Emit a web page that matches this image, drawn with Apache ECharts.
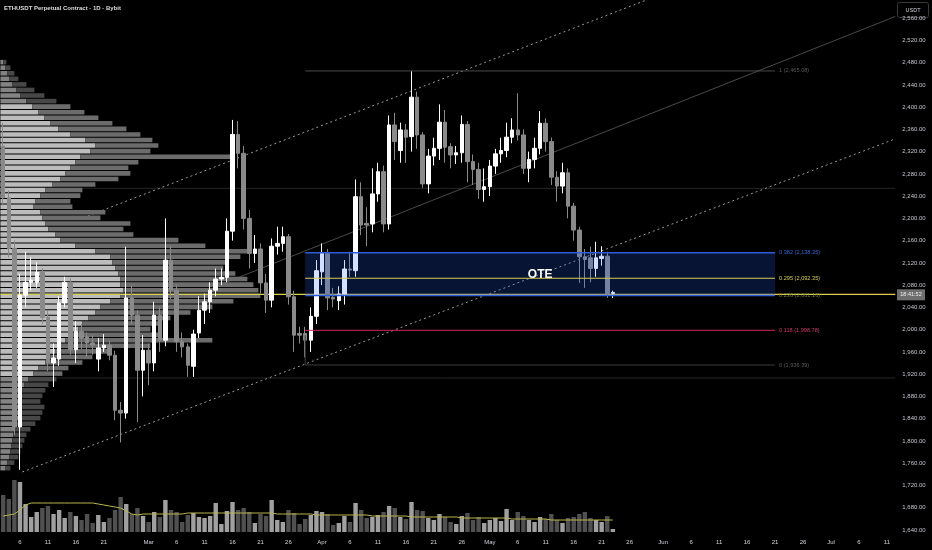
<!DOCTYPE html>
<html><head><meta charset="utf-8">
<script src="https://cdn.jsdelivr.net/npm/echarts@6/dist/echarts.min.js"></script>
<style>html,body{margin:0;padding:0;background:#000;}#c{width:932px;height:550px;}</style>
</head><body><div id="c"></div>
<script>
// ---- daily candles, Feb 3 .. May 23 ----
const opens=[2330,2237,2146,1825,2062,2085,2085,2103,2022,1940,
1947,2048,2085,1964,1997,1987,1976,1947,1967,1972,
1954,1855,1850,2057,2026,1927,1963,1940,2026,1981,
2125,2071,1978,1969,1934,1994,2035,2050,2071,2091,
2094,2177,2351,2317,2200,2137,2145,2084,2053,2150,
2155,2167,2059,1993,1993,1981,2024,2104,2138,2058,
2052,2064,2109,2106,2239,2191,2190,2244,2284,2190,
2368,2322,2359,2347,2418,2350,2262,2312,2326,2373,
2329,2314,2318,2369,2302,2288,2252,2257,2294,2316,
2322,2346,2359,2350,2290,2306,2326,2371,2338,2274,
2258,2282,2222,2179,2131,2129,2110,2128,2132,2065];
const closes=[2237,2146,1825,2062,2085,2089,2103,2022,1941,1949,
2048,2085,1964,1997,1985,1976,1972,1967,1972,1954,
1855,1850,2057,2026,1927,1963,1940,2026,1981,2125,
2071,1978,1969,1936,1992,2035,2050,2071,2091,2094,
2177,2351,2317,2200,2137,2145,2084,2053,2150,2155,
2167,2059,1990,1990,1981,2024,2106,2138,2057,2055,
2064,2109,2107,2239,2188,2188,2244,2284,2190,2368,
2338,2359,2346,2418,2350,2262,2312,2326,2373,2328,
2314,2318,2369,2302,2288,2252,2257,2294,2316,2322,
2346,2359,2350,2290,2306,2326,2371,2338,2274,2258,
2282,2222,2179,2131,2126,2110,2129,2132,2065,2067];
const lows=[2225,2130,1810,1748,2040,2070,2075,2010,1925,1897,
1935,2040,1955,1940,1965,1950,1955,1925,1960,1945,
1837,1797,1840,2010,1834,1880,1900,1925,1960,1970,
2055,1960,1950,1915,1915,1985,2010,2030,2060,2080,
2085,2160,2290,2180,2110,2120,2065,2030,2040,2135,
2140,2045,1960,1975,1950,1960,2010,2080,2035,2040,
2035,2045,2095,2095,2170,2150,2175,2230,2175,2180,
2305,2300,2300,2320,2325,2255,2245,2295,2305,2300,
2290,2298,2300,2265,2260,2235,2230,2240,2280,2300,
2310,2335,2340,2280,2265,2290,2315,2320,2260,2230,
2245,2200,2160,2084,2075,2085,2095,2115,2057,2057];
const highs=[2372,2250,2160,2100,2140,2130,2121,2110,2035,1975,
2060,2095,2092,2015,2010,1995,1990,1985,1992,1980,
1962,1870,2149,2080,2035,1990,1975,2050,2040,2200,
2150,2080,1995,1975,2000,2060,2065,2085,2110,2110,
2200,2377,2375,2330,2215,2170,2155,2100,2164,2185,
2185,2172,2070,2005,2005,2040,2125,2155,2145,2075,
2078,2125,2140,2270,2265,2220,2290,2300,2295,2385,
2390,2372,2370,2465,2428,2355,2325,2345,2405,2395,
2335,2330,2385,2375,2315,2300,2290,2305,2325,2345,
2372,2380,2425,2360,2320,2345,2393,2380,2345,2285,
2300,2290,2228,2185,2145,2149,2158,2150,2140,2070];
const volumes=[37,33,52,50,28,15,20,24,26,18,
22,14,20,16,12,18,9,17,10,14,
22,35,28,18,24,16,10,20,15,32,
22,20,10,17,19,15,14,16,29,8,
21,30,22,24,20,9,18,16,32,12,
10,22,19,8,13,17,21,20,18,7,
9,16,10,29,22,14,15,17,20,26,
24,15,13,30,22,21,14,12,18,15,
10,8,16,19,12,15,9,12,14,11,
23,12,20,16,12,10,15,13,18,12,
9,14,15,18,20,14,12,10,16,3];
const volumeMA=[16,17,18,22,27,29,29,29,29,29,
29,29,29,29,29,29,29,28,27,26,
25,24,21,18,17,18,18,18,18,18,
18,18,18,19,19,19,19,19,19,19,
19,19,19,19,19,19,19,19,19,18,
18,18,18,18,18,18,17,17,17,17,
17,17,17,17,17,17,16,16,16,16,
16,16,16,15,15,15,15,15,15,15,
15,15,14,14,14,14,14,14,14,14,
14,13,13,13,13,13,13,13,12,12,
12,12,12,12,12,12,12,12,12,12];
// ---- visible range volume profile (rows of 10 USDT from 1745) ----
const profStart=1745, profStep=10;
const profTotal=[10,14,18,20,22,24,26,30,35,40,42,44,40,42,45,48,56,62,68,82,92,108,150,212,160,150,158,170,190,212,233,260,258,253,247,235,223,225,240,247,205,178,133,123,130,100,105,72,70,80,82,95,118,130,128,138,232,150,158,152,140,126,112,98,84,70,56,44,34,26,18,14,10,6];
const profUp=[5,7,9,10,11,12,13,14,16,18,18,19,19,20,22,24,28,33,38,45,50,55,60,65,72,78,82,88,95,100,110,120,123,120,120,118,115,112,110,95,75,60,55,48,45,42,40,33,35,40,45,52,60,65,70,75,80,90,95,85,70,58,50,44,38,32,26,20,16,12,9,7,5,3];
const valueArea=[1920,2400];
const pocPrice=2063.5;
// ---- drawings ----
const fibLevels=['1','0.382','0.295','0.236','0.118','0'];
const fibPrices=[2465.08,2138.35,2092.35,2061.16,1998.78,1936.39];
const fibColors=['#4a4a4a','#2f5bd8','#d6cc55','#2f5bd8','#d0285e','#3e3e3e'];
const fibLabelColors=['#5a5a5a','#3d64d6','#d6cc55','#6f7f4a','#d0386a','#5a5a5a'];
const fibSpan=[54,138];
const upperChannel=[[14.3,2201],[120,2612]];
const midChannel=[[39.1,2082],[159.5,2563]];
const lowerChannel=[[3.4,1744],[159.5,2343]];
const refLevels=[2254,1913];
const tagText='18:41:52';

const dates=[];
const t0=Date.UTC(2026,1,3);
for(let i=0;i<160;i++){dates.push(new Date(t0+i*86400000).toISOString().slice(0,10));}
const monthNames=['Jan','Feb','Mar','Apr','May','Jun','Jul','Aug','Sep','Oct','Nov','Dec'];
function daysIn(y,m){return new Date(Date.UTC(y,m+1,0)).getUTCDate();}

const candleData=opens.map((o,i)=>[o,closes[i],lows[i],highs[i]]);
const volData=volumes.map((v,i)=>({value:v,itemStyle:{color:closes[i]>=opens[i]?'#a0a0a0':'#505050'}}));
const profData=profTotal.map((t,i)=>{const lo=profStart+i*profStep;const mid=lo+profStep/2;return [lo,lo+profStep,profUp[i],t,(mid>=valueArea[0]&&mid<=valueArea[1])?1:0];});

const FONT='"Liberation Sans", Arial, sans-serif';
const series=[];
refLevels.forEach(p=>series.push({type:'line',xAxisIndex:1,yAxisIndex:0,data:[[-0.5,p],[159.5,p]],symbol:'none',silent:true,z:1,lineStyle:{color:'#262626',width:1}}));
[upperChannel,lowerChannel].forEach(d=>series.push({type:'line',xAxisIndex:1,yAxisIndex:0,data:d,symbol:'none',silent:true,z:1,lineStyle:{color:'#9a9a9a',width:1,type:[2,3]}}));
series.push({type:'line',xAxisIndex:1,yAxisIndex:0,data:midChannel,symbol:'none',silent:true,z:1,lineStyle:{color:'#4a4a4a',width:1}});
series.push({type:'custom',xAxisIndex:2,yAxisIndex:0,data:profData,z:2,silent:true,encode:{x:[2,3],y:[0,1]},
  renderItem:function(params,api){
    const lo=api.value(0),hi=api.value(1),up=api.value(2),tot=api.value(3),va=api.value(4);
    const a=api.coord([0,hi]),b=api.coord([up,lo]),c=api.coord([tot,lo]);
    const h=Math.max(0.5,b[1]-a[1]-1);
    return {type:'group',children:[
      {type:'rect',shape:{x:a[0],y:a[1],width:b[0]-a[0],height:h},style:{fill:va?'#bcbcbc':'#838383'}},
      {type:'rect',shape:{x:b[0],y:a[1],width:c[0]-b[0],height:h},style:{fill:va?'#6c6c6c':'#474747'}}]};
  }});
series.push({type:'line',xAxisIndex:1,yAxisIndex:0,data:[[-0.5,pocPrice],[159.5,pocPrice]],symbol:'none',silent:true,z:3,lineStyle:{color:'#d9cf4e',width:1.2}});
series.push({type:'candlestick',xAxisIndex:0,yAxisIndex:0,data:candleData,barWidth:4,z:4,silent:true,
  itemStyle:{color:'#ffffff',color0:'#8a8a8a',borderColor:'#ffffff',borderColor0:'#8a8a8a',borderWidth:1}});
series.push({type:'custom',xAxisIndex:1,yAxisIndex:0,data:[[fibSpan[0],fibSpan[1],fibPrices[3],fibPrices[1]]],z:5,silent:true,encode:{x:[0,1],y:[2,3]},
  renderItem:function(params,api){
    const a=api.coord([api.value(0),api.value(3)]),b=api.coord([api.value(1),api.value(2)]);
    return {type:'group',children:[
      {type:'rect',shape:{x:a[0],y:a[1],width:b[0]-a[0],height:b[1]-a[1]},style:{fill:'rgba(41,98,255,0.2)'}},
      {type:'text',x:(a[0]+b[0])/2,y:(a[1]+b[1])/2+1,style:{text:'OTE',fill:'#ffffff',font:'bold 12px '+FONT,align:'center',verticalAlign:'middle'}}]};
  }});
fibLevels.forEach((lv,i)=>{
  const p=fibPrices[i];
  const lbl=lv+' ('+p.toLocaleString('en-US',{minimumFractionDigits:2,maximumFractionDigits:2})+')';
  series.push({type:'line',xAxisIndex:1,yAxisIndex:0,data:[[fibSpan[0],p],[fibSpan[1],p]],symbol:'none',silent:true,z:6,
    lineStyle:{color:fibColors[i],width:(i===1||i===3)?1.5:1},
    endLabel:{show:true,formatter:lbl,color:fibLabelColors[i],fontSize:5.6,fontFamily:FONT,distance:4}});
});
series.push({type:'line',xAxisIndex:1,yAxisIndex:0,data:[[fibSpan[0],1990],[fibSpan[0],fibPrices[5]]],symbol:'none',silent:true,z:6,lineStyle:{color:'#3e3e3e',width:1}});
series.push({type:'bar',xAxisIndex:3,yAxisIndex:1,data:volData,barWidth:4.4,silent:true,z:2});
series.push({type:'line',xAxisIndex:3,yAxisIndex:1,data:volumeMA,symbol:'none',silent:true,z:3,lineStyle:{color:'#b9b64c',width:1}});

const option={
  backgroundColor:'#000',animation:false,
  grid:[{left:0.4,right:36.7,top:-4.1,height:556.2,outerBoundsMode:'none',containLabel:false},
        {left:0.4,right:36.7,top:472,height:60,outerBoundsMode:'none',containLabel:false}],
  xAxis:[
    {type:'category',gridIndex:0,data:dates,show:false,boundaryGap:true},
    {type:'value',gridIndex:0,min:-0.5,max:159.5,show:false},
    {type:'value',gridIndex:0,min:0,max:895,show:false},
    {type:'category',gridIndex:1,data:dates,boundaryGap:true,axisLine:{show:false},axisTick:{show:false},splitLine:{show:false},
      axisLabel:{color:'#d1d4dc',fontSize:6,fontFamily:FONT,margin:7,
        interval:function(idx,val){const y=+val.slice(0,4),m=+val.slice(5,7)-1,d=+val.slice(8,10);
          return d===1||d===6||d===11||d===16||d===21||(d===26&&daysIn(y,m)>28);},
        formatter:function(val){const m=+val.slice(5,7)-1,d=+val.slice(8,10);return d===1?monthNames[m]:String(d);}}}
  ],
  yAxis:[
    {type:'value',gridIndex:0,position:'right',min:1600,max:2600,interval:40,splitLine:{show:false},axisLine:{show:false},axisTick:{show:false},
      axisLabel:{color:'#c3c6ce',fontSize:6,fontFamily:FONT,margin:7,showMinLabel:false,showMaxLabel:false,
        formatter:function(v){return v.toLocaleString('en-US',{minimumFractionDigits:2,maximumFractionDigits:2});}}},
    {type:'value',gridIndex:1,min:0,max:60,show:false}
  ],
  series:series
};
const chart=echarts.init(document.getElementById('c'),null,{renderer:'canvas'});
chart.setOption(option);
const ty=chart.convertToPixel({yAxisIndex:0},pocPrice);
chart.setOption({graphic:[
  {type:'text',left:4,top:5,style:{text:'ETHUSDT Perpetual Contract · 1D · Bybit',fill:'#dcdcdc',font:'bold 6px '+FONT}},
  {type:'group',left:897,top:2,children:[
    {type:'rect',shape:{x:0,y:0,width:31,height:15,r:2},style:{fill:'#000',stroke:'#3a3a3a',lineWidth:1}},
    {type:'text',x:15.5,y:7.5,style:{text:'USDT',fill:'#d1d4dc',font:'5.5px '+FONT,align:'center',verticalAlign:'middle'}}]},
  {type:'group',left:897,top:ty-5,children:[
    {type:'rect',shape:{x:0,y:0,width:28,height:11},style:{fill:'#6e6e6e'}},
    {type:'text',x:14,y:5.5,style:{text:tagText,fill:'#f0f0f0',font:'5.5px '+FONT,align:'center',verticalAlign:'middle'}}]}
]});
</script></body></html>
